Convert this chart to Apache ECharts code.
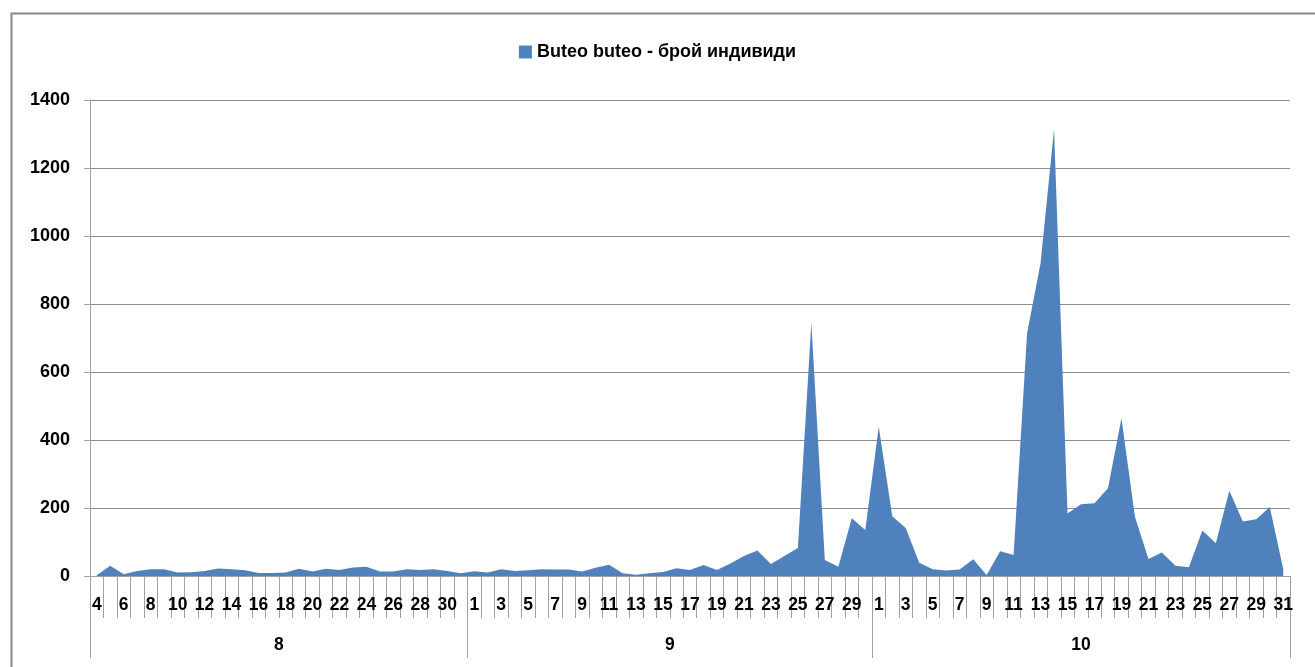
<!DOCTYPE html>
<html>
<head>
<meta charset="utf-8">
<script src="https://cdn.jsdelivr.net/npm/echarts@6/dist/echarts.min.js"></script>
<style>html,body{margin:0;padding:0;background:#fff}#c{width:1315px;height:667px}</style>
</head>
<body>
<div id="c"></div>
<script>
// Month labels and day ranges
const monthLabels = ['8', '9', '10'];
const augDays = [4,5,6,7,8,9,10,11,12,13,14,15,16,17,18,19,20,21,22,23,24,25,26,27,28,29,30,31];
const sepDays = [1,2,3,4,5,6,7,8,9,10,11,12,13,14,15,16,17,18,19,20,21,22,23,24,25,26,27,28,29,30];
const octDays = [1,2,3,4,5,6,7,8,9,10,11,12,13,14,15,16,17,18,19,20,21,22,23,24,25,26,27,28,29,30,31];

// Buteo buteo counts
const augValues = [2,30,5,15,20,20,10,11,15,22,20,17,9,9,10,21,13,21,18,25,27,13,13,20,18,20,15,8];
const sepValues = [14,10,20,15,17,20,19,19,13,24,33,8,4,8,12,23,18,32,18,37,59,75,35,59,82,745,47,27,170,135];
const octValues = [439,176,141,39,20,16,19,49,3,73,62,714,920,1314,184,211,214,258,464,174,50,69,30,26,134,96,251,160,167,203,20];

const seriesName = 'Buteo buteo - брой индивиди';
const yTicks = [0,200,400,600,800,1000,1200,1400];

const monthDays = [augDays, sepDays, octDays];
const categories = [].concat(augDays, sepDays, octDays).map(String);
const values = [].concat(augValues, sepValues, octValues);

// month boundaries and centres in category units
const bounds = [0];
monthDays.forEach(d => bounds.push(bounds[bounds.length - 1] + d.length));
const centers = monthDays.map((d, i) => (bounds[i] + bounds[i + 1]) / 2);

const FONT = 'Liberation Sans';
const chart = echarts.init(document.getElementById('c'));
chart.setOption({
  animation: false,
  backgroundColor: '#fff',
  graphic: [{
    type: 'rect', left: 9, top: 11, z: -1,
    shape: { width: 1400, height: 700 },
    style: { fill: 'none', stroke: '#878787', lineWidth: 2 }
  }],
  legend: {
    top: 38, left: 'center',
    icon: 'rect', itemWidth: 13, itemHeight: 13,
    textStyle: { fontFamily: FONT, fontWeight: 'bold', fontSize: 18, color: '#000' },
    data: [seriesName]
  },
  grid: { left: 90, right: 25, top: 100, bottom: 91, containLabel: false },
  xAxis: [{
    type: 'category',
    data: categories,
    boundaryGap: true,
    axisLine: { show: true, lineStyle: { color: '#a0a0a0', width: 1 } },
    axisTick: { show: true, interval: 0, length: 42, lineStyle: { color: '#a0a0a0' } },
    axisLabel: { interval: 1, margin: 20, fontFamily: FONT, fontWeight: 'bold', fontSize: 17.5, color: '#000' },
    splitLine: { show: false }
  }, {
    type: 'value',
    min: 0, max: bounds[bounds.length - 1],
    position: 'bottom',
    axisLine: { show: false },
    axisTick: { show: true, length: 82, customValues: bounds, lineStyle: { color: '#a0a0a0' } },
    axisLabel: {
      show: true, margin: 60, customValues: centers,
      formatter: v => { const i = centers.indexOf(v); return i >= 0 ? monthLabels[i] : ''; },
      fontFamily: FONT, fontWeight: 'bold', fontSize: 17.5, color: '#000'
    },
    splitLine: { show: false }
  }],
  yAxis: {
    type: 'value', min: 0, max: 1400, interval: 200,
    axisLine: { show: true, lineStyle: { color: '#a0a0a0' } },
    axisTick: { show: true, length: 6, lineStyle: { color: '#a0a0a0' } },
    axisLabel: { margin: 20, fontFamily: FONT, fontWeight: 'bold', fontSize: 18, color: '#000',
      formatter: v => yTicks.includes(v) ? String(v) : '' },
    splitLine: { show: true, lineStyle: { color: '#8c8c8c', width: 1 } }
  },
  series: [{
    name: seriesName,
    type: 'line',
    xAxisIndex: 0,
    data: values,
    symbol: 'none',
    itemStyle: { color: '#4f81bd' },
    lineStyle: { width: 0, color: '#4f81bd' },
    areaStyle: { color: '#4f81bd', opacity: 1 }
  }]
});
</script>
</body>
</html>
